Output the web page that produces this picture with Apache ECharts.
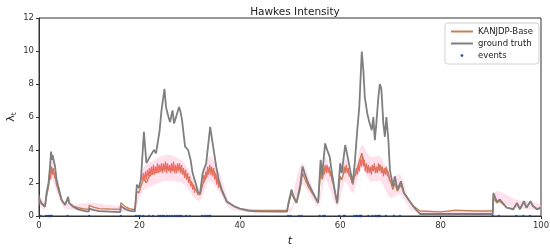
<!DOCTYPE html>
<html>
<head>
<meta charset="utf-8">
<script src="https://cdn.jsdelivr.net/npm/echarts@6/dist/echarts.min.js"></script>
<style>
  html, body { margin: 0; padding: 0; background: #fff; }
  #chart { width: 550px; height: 249px; }
</style>
</head>
<body>
<div id="chart"></div>
<script>
// ground truth intensity [t, value]
const groundTruth = [
  [0, 1.1], [0.2, 1.17], [0.45, 0.8], [1.2, 0.56], [1.5, 1.4], [1.9, 2.0], [2.2, 3.0], [2.4, 3.9],
  [2.6, 3.4], [2.7, 3.7], [3.2, 3.0], [3.5, 2.2], [4.0, 1.6], [4.5, 0.97], [5.2, 0.67], [5.8, 1.17],
  [6.0, 0.8], [6.8, 0.56], [7.8, 0.4], [9.2, 0.3], [9.9, 0.26], [10.0, 0.45], [11, 0.35], [12, 0.3],
  [14, 0.26], [16.2, 0.24], [16.3, 0.6], [17, 0.45], [18, 0.33], [19.1, 0.28], [19.5, 1.9], [19.9, 1.7],
  [20.3, 2.2], [20.9, 5.1], [21.4, 3.2], [22.1, 3.6], [22.9, 4.0], [23.3, 3.8], [24.0, 5.1], [24.4, 6.4],
  [25.0, 7.7], [25.3, 6.6], [25.8, 6.0], [26.1, 5.7], [26.6, 6.4], [26.9, 5.6], [27.3, 6.0], [27.9, 6.6],
  [28.2, 6.3], [28.5, 5.8], [29.1, 4.2], [29.7, 4.0], [30.2, 3.4], [30.6, 2.6], [31.2, 2.0], [31.7, 1.4],
  [32.1, 1.4], [32.6, 2.6], [33.3, 3.2], [34.1, 5.4], [34.4, 4.8], [34.9, 3.8], [35.3, 3.0], [35.8, 2.2],
  [36.4, 1.6], [37.4, 0.87], [38.8, 0.6], [40.0, 0.45], [41.5, 0.32], [43, 0.28], [49.4, 0.26], [49.7, 0.8],
  [50.3, 1.6], [50.7, 1.2], [51.3, 0.8], [52.0, 1.8], [52.5, 3.0], [52.9, 2.6], [53.6, 2.0], [54.6, 1.4],
  [55.6, 0.8], [56.1, 3.4], [56.4, 2.5], [57.0, 4.4], [57.4, 4.0], [57.9, 3.6], [58.4, 2.5], [59.0, 1.4],
  [59.4, 0.77], [60.0, 3.2], [60.3, 2.6], [61.0, 4.3], [61.6, 3.4], [62.1, 2.6], [62.5, 2.0], [62.9, 3.2],
  [63.4, 5.2], [63.8, 6.6], [64.3, 9.96], [64.6, 8.9], [64.9, 7.2], [65.4, 6.2], [65.8, 5.7], [66.3, 5.2],
  [66.6, 6.0], [66.9, 4.6], [67.2, 5.6], [67.6, 7.2], [67.9, 8.0], [68.2, 7.7], [68.6, 5.6], [68.9, 4.8],
  [69.2, 6.0], [69.6, 4.6], [69.9, 2.8], [70.5, 1.8], [70.9, 2.4], [71.4, 1.6], [72.1, 2.1], [72.7, 1.4],
  [73.6, 1.0], [74.6, 0.56], [75.9, 0.12], [80, 0.12], [85, 0.12], [90.4, 0.12], [90.5, 1.4], [91.2, 0.87],
  [91.8, 1.0], [93.2, 0.5], [94.5, 0.4], [95.2, 0.8], [95.8, 0.4], [96.6, 0.9], [97.1, 0.5], [97.9, 0.9],
  [98.4, 0.6], [99.2, 0.4], [100, 0.5]
];

// model (KANJDP-Base) mean intensity
const modelMean = [
  [0, 1.0], [0.45, 0.75], [1.2, 0.6], [1.5, 1.2], [1.9, 1.8], [2.2, 2.6], [2.4, 3.0], [2.7, 2.8],
  [3.2, 2.4], [3.5, 1.9], [4.0, 1.4], [4.5, 0.95], [5.2, 0.7], [5.8, 1.0], [6.0, 0.8], [6.8, 0.6],
  [7.8, 0.5], [9.2, 0.42], [9.9, 0.4], [10.0, 0.65], [11, 0.52], [12, 0.45], [14, 0.42], [16.2, 0.4],
  [16.3, 0.8], [17, 0.6], [18, 0.45], [19.1, 0.38], [19.5, 1.5], [19.9, 1.4], [20.3, 1.8], [20.9, 2.3],
  [21.4, 2.0], [22.1, 2.5], [22.9, 2.6], [24, 2.7], [25, 2.9], [26, 2.8], [27, 2.8], [28, 2.9],
  [29.1, 2.5], [30.2, 2.1], [31.2, 1.6], [31.7, 1.3], [32.1, 1.3], [32.6, 1.9], [33.3, 2.4], [34.1, 2.9],
  [34.9, 2.7], [35.8, 2.0], [36.4, 1.5], [37.4, 0.9], [38.8, 0.6], [40, 0.45], [42, 0.35], [49.4, 0.33],
  [49.7, 0.7], [50.3, 1.4], [50.7, 1.1], [51.3, 0.8], [52, 1.6], [52.5, 2.6], [52.9, 2.3], [53.6, 1.8],
  [54.6, 1.3], [55.6, 0.8], [56.1, 2.7], [56.4, 2.2], [57, 3.0], [57.9, 2.8], [58.4, 2.2], [59, 1.4],
  [59.4, 0.8], [60, 2.4], [60.3, 2.2], [61, 2.9], [61.6, 2.7], [62.1, 2.3], [62.5, 1.9], [62.9, 2.5],
  [63.4, 2.9], [64.3, 3.8], [64.9, 3.1], [65.8, 2.8], [66.6, 3.0], [67.2, 2.7], [67.9, 3.1], [68.6, 2.6],
  [69.2, 2.9], [69.9, 2.2], [70.5, 1.6], [70.9, 2.0], [71.4, 1.5], [72.1, 1.9], [72.7, 1.4], [73.6, 1.0],
  [74.6, 0.6], [75.9, 0.3], [80, 0.25], [83, 0.35], [87, 0.3], [90.4, 0.3], [90.5, 1.1], [91.2, 0.8],
  [91.8, 0.9], [93.2, 0.5], [94.5, 0.45], [95.2, 0.75], [95.8, 0.45], [96.6, 0.85], [97.1, 0.5], [97.9, 0.85],
  [98.4, 0.6], [99.2, 0.45], [100, 0.5]
];

// model sample path (fast oscillation, drawn red), '-' breaks the line
const modelFine = [
  [1.9, 2.0], [2.1, 2.6], [2.3, 2.2], [2.5, 2.9], [2.7, 2.5], [2.9, 2.9], [3.1, 2.3], [3.2, '-'],
  [20.6, 2.2], [20.8, 2.6], [21.0, 2.1], [21.2, 2.7], [21.4, 2.2], [21.6, 2.8], [21.8, 2.4], [22.0, 2.9],
  [22.2, 2.4], [22.4, 3.0], [22.6, 2.5], [22.8, 3.1], [23.0, 2.5], [23.2, 3.0], [23.4, 2.6], [23.6, 3.2],
  [23.8, 2.6], [24.0, 3.1], [24.2, 2.7], [24.4, 3.2], [24.6, 2.6], [24.8, 3.2], [25.0, 2.7], [25.2, 3.3],
  [25.4, 2.6], [25.6, 3.2], [25.8, 2.7], [26.0, 3.1], [26.2, 2.6], [26.4, 3.2], [26.6, 2.7], [26.8, 3.3],
  [27.0, 2.6], [27.2, 3.1], [27.4, 2.6], [27.6, 3.2], [27.8, 2.7], [28.0, 3.2], [28.2, 2.6], [28.4, 3.1],
  [28.6, 2.5], [28.8, 2.9], [29.0, 2.3], [29.2, 2.8], [29.4, 2.2], [29.6, 2.6], [29.8, 2.0], [30.0, 2.4],
  [30.2, 1.8], [30.4, 2.1], [30.6, 1.6], [30.8, 1.9], [31.0, 1.4], [31.2, '-'],
  [32.6, 2.0], [32.8, 2.5], [33.0, 2.1], [33.2, 2.7], [33.4, 2.3], [33.6, 3.0], [33.8, 2.5], [34.0, 3.1],
  [34.2, 2.5], [34.4, 3.0], [34.6, 2.4], [34.8, 2.9], [35.0, 2.2], [35.2, 2.6], [35.4, 1.9], [35.6, 2.3],
  [35.8, 1.7], [36.0, '-'],
  [56.0, 2.3], [56.2, 2.8], [56.4, 2.3], [56.6, 2.9], [56.8, 2.5], [57.0, 3.1], [57.2, 2.6], [57.4, 3.1],
  [57.6, 2.6], [57.8, 3.0], [58.0, 2.4], [58.2, 2.7], [58.4, 2.1], [58.6, '-'],
  [60.6, 2.5], [60.8, 3.0], [61.0, 2.6], [61.2, 3.1], [61.4, 2.6], [61.6, 2.9], [61.8, 2.4], [62.0, 2.6],
  [62.2, '-'],
  [63.0, 2.4], [63.2, 2.9], [63.4, 2.5], [63.6, 3.1], [63.8, 2.7], [64.0, 3.4], [64.2, 3.0], [64.4, 3.7],
  [64.6, 3.0], [64.8, 3.4], [65.0, 2.7], [65.2, 3.2], [65.4, 2.6], [65.6, 3.1], [65.8, 2.6], [66.0, 3.0],
  [66.2, 2.5], [66.4, 3.1], [66.6, 2.7], [66.8, 3.2], [67.0, 2.6], [67.2, 3.0], [67.4, 2.6], [67.6, 3.2],
  [67.8, 2.7], [68.0, 3.1], [68.2, 2.6], [68.4, 3.0], [68.6, 2.4], [68.8, 2.9], [69.0, 2.5], [69.2, 3.0],
  [69.4, 2.4], [69.6, 2.7], [69.8, 2.1]
];

// uncertainty band of the model
const bandT  = [0, 1.2, 2.4, 3.5, 5, 7, 10, 16, 19, 20, 21, 23, 25, 27, 29, 31, 32, 34, 36, 38, 40, 50, 51, 52.5, 55.6, 57, 59.4, 61, 62.5, 64.3, 66, 68, 70, 72, 74, 76, 90.4, 91, 95, 100];
const bandLo = [0.7, 0.4, 2.3, 1.5, 0.5, 0.35, 0.3, 0.3, 0.3, 1.1, 1.6, 1.9, 2.1, 2.1, 1.9, 1.1, 0.9, 2.1, 1.4, 0.45, 0.3, 0.25, 0.8, 1.9, 0.6, 2.2, 0.6, 2.1, 1.4, 2.9, 2.1, 2.1, 1.1, 1.3, 0.4, 0.15, 0.2, 0.8, 0.5, 0.4];
const bandHi = [1.3, 0.8, 3.5, 2.4, 0.9, 0.7, 0.8, 0.6, 0.5, 2.1, 3.0, 3.4, 3.7, 3.6, 3.2, 2.1, 1.7, 3.6, 2.6, 0.8, 0.5, 0.45, 1.9, 3.2, 1.0, 3.6, 1.0, 3.5, 2.4, 4.3, 3.6, 3.6, 2.4, 2.5, 0.8, 0.4, 0.45, 1.5, 1.0, 0.7];

// event times
const eventTimes = [
  0.3, 1.4, 1.8, 2.1, 2.3, 2.6, 5.7, 10.0, 16.3, 19.3, 19.8, 20.2, 20.8, 21.9, 22.7, 23.8, 24.2, 24.6,
  24.9, 25.5, 26.0, 26.5, 27.0, 27.4, 27.8, 28.1, 28.4, 29.3, 30.0, 32.5, 33.0, 33.5, 33.9, 34.1, 49.6,
  50.1, 51.8, 52.3, 55.9, 56.6, 56.9, 59.8, 60.7, 60.9, 62.8, 63.2, 63.5, 63.9, 64.1, 64.2, 65.6, 66.4,
  67.0, 67.4, 67.7, 67.9, 69.1, 70.7, 71.9, 90.4, 91.6, 95.1, 96.5, 97.8
];

const xTicks = [0, 20, 40, 60, 80, 100];
const yTicks = [0, 2, 4, 6, 8, 10, 12];

const font = "DejaVu Sans";
const chart = echarts.init(document.getElementById("chart"));

// band drawn as one polygon: upper edge forward, lower edge back
function renderBand(params, api) {
  if (params.dataIndex !== 0) return;
  const pts = [];
  for (let i = 0; i < bandT.length; i++) pts.push(api.coord([bandT[i], bandHi[i]]));
  for (let i = bandT.length - 1; i >= 0; i--) pts.push(api.coord([bandT[i], bandLo[i]]));
  return {
    type: "polygon",
    shape: { points: pts, smooth: 0.3 },
    style: { fill: "rgba(255, 170, 205, 0.35)" },
    silent: true,
  };
}

const option = {
  animation: false,
  title: {
    text: "Hawkes Intensity",
    left: 290,
    top: 2,
    textAlign: "center",
    textStyle: { fontFamily: font, fontSize: 10.5, fontWeight: "normal", color: "#222" },
  },
  legend: {
    orient: "vertical",
    right: 11,
    top: 23,
    padding: [4, 6, 4, 6],
    itemGap: 3,
    itemWidth: 22,
    itemHeight: 2,
    backgroundColor: "#fff",
    borderColor: "#d0d0d0",
    borderWidth: 1,
    borderRadius: 3,
    textStyle: { fontFamily: font, fontSize: 8.5, color: "#222", padding: [1, 0, 1, 0] },
    data: [
      { name: "KANJDP-Base", icon: "rect" },
      { name: "ground truth", icon: "rect" },
      { name: "events", icon: "circle", itemStyle: { borderColor: "#1f3f7f", borderWidth: 1 } },
    ],
  },
  grid: {
    left: 39, right: 9, top: 18, bottom: 33,
    outerBoundsMode: "none",
    show: true, borderColor: "#333", borderWidth: 1,
  },
  xAxis: {
    type: "value",
    min: xTicks[0],
    max: xTicks[xTicks.length - 1],
    interval: 20,
    name: "t",
    nameLocation: "middle",
    nameGap: 20,
    nameMoveOverlap: false,
    nameTextStyle: { fontFamily: font, fontSize: 11, fontStyle: "italic", color: "#222" },
    axisLine: { lineStyle: { color: "#333" } },
    axisTick: { length: 3, lineStyle: { color: "#333" } },
    axisLabel: { fontFamily: font, fontSize: 8.5, color: "#333", margin: 5 },
    splitLine: { show: false },
  },
  yAxis: {
    type: "value",
    min: yTicks[0],
    max: yTicks[yTicks.length - 1],
    interval: 2,
    name: "{a|λ}{b|t}",
    nameLocation: "middle",
    nameGap: 21,
    nameMoveOverlap: false,
    nameTextStyle: {
      rich: {
        a: { fontFamily: font, fontSize: 11, color: "#222" },
        b: { fontFamily: font, fontSize: 7.5, color: "#222", padding: [5, 0, 0, 0] },
      },
    },
    axisLine: { show: true, lineStyle: { color: "#333" } },
    axisTick: { show: true, length: 3, lineStyle: { color: "#333" } },
    axisLabel: { fontFamily: font, fontSize: 8.5, color: "#333", margin: 5 },
    splitLine: { show: false },
  },
  series: [
    {
      name: "band",
      type: "custom",
      renderItem: renderBand,
      data: bandT.map((t, i) => [t, bandHi[i]]),
      z: 1,
    },
    {
      name: "fine",
      type: "line",
      symbol: "none",
      connectNulls: false,
      lineStyle: { color: "#f0564a", width: 1.2, opacity: 0.85 },
      data: modelFine,
      z: 2,
    },
    {
      name: "KANJDP-Base",
      type: "line",
      symbol: "none",
      color: "#c8805a",
      lineStyle: { color: "#c8805a", width: 1.4 },
      data: modelMean,
      z: 3,
    },
    {
      name: "ground truth",
      type: "line",
      symbol: "none",
      color: "#7f7f7f",
      lineStyle: { color: "#7f7f7f", width: 1.8 },
      data: groundTruth,
      z: 4,
    },
    {
      name: "events",
      type: "scatter",
      symbolSize: 2.5,
      itemStyle: { color: "#1f3f7f" },
      data: eventTimes.map((t) => [t, 0]),
      z: 5,
    },
  ],
};

chart.setOption(option);
</script>
</body>
</html>
